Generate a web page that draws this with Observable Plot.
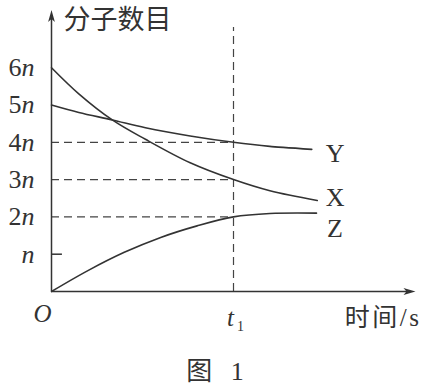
<!DOCTYPE html>
<html><head><meta charset="utf-8">
<script src="https://cdn.jsdelivr.net/npm/d3@7"></script>
<script src="https://cdn.jsdelivr.net/npm/@observablehq/plot@0.6"></script>
<style>
html,body{margin:0;padding:0;background:#fff;overflow:hidden;}
#chart svg{display:block;}
#caption{width:430px;height:35px;line-height:35px;text-align:center;font-family:"Liberation Serif","Noto Sans CJK SC",serif;font-size:26px;color:#333;margin-top:4px;word-spacing:12px;}
</style></head><body>
<div id="chart"></div>
<div id="caption">图 1</div>
<script>
// Series X, Y, Z: molecule count (in units of n) vs time (t1 = 5)
const xTimes  = [0, 0.75, 1.67, 2.58, 3.81, 5, 6, 7.3];
const xCounts = [6, 5.30, 4.60, 4.08, 3.45, 3.0, 2.70, 2.44];
const yTimes  = [0, 0.75, 1.67, 2.58, 3.81, 5, 6, 7.15];
const yCounts = [5, 4.80, 4.60, 4.39, 4.17, 4.0, 3.89, 3.81];
const zTimes  = [0, 1, 2, 3, 4, 5, 6, 7.28];
const zCounts = [0, 0.56, 1.05, 1.45, 1.76, 2.0, 2.09, 2.1];
const seriesNames = ["X", "Y", "Z"];
const labelTimes  = [7.79, 7.79, 7.79];
const labelCounts = [2.52, 3.70, 1.69];
const t1 = 5;
const guideCounts = [2, 3, 4];
const tickValues = [1, 2, 3, 4, 5, 6];
const tickDigits = ["", "2", "3", "4", "5", "6"];
const tickUnit = "n";
const xMax = 10;
const yMax = 7.55;
const guideTop = 7.08;
const yTitle = "分子数目";
const xTitle = "时间/s";
const originLabel = "O";
const t1Label = "t";
const t1Sub = "1";

const rows = [];
[[xTimes, xCounts], [yTimes, yCounts], [zTimes, zCounts]].forEach(([ts, vs], k) => {
  ts.forEach((t, i) => rows.push({t, v: vs[i], s: seriesNames[k]}));
});
const labels = seriesNames.map((s, i) => ({s, t: labelTimes[i], v: labelCounts[i]}));

const ink = "#333";
const serif = "Liberation Serif, Times New Roman, serif";
const cjk = "Liberation Serif, Noto Sans CJK SC, sans-serif";

const arrowUp = {draw(ctx) { ctx.moveTo(0, 0); ctx.lineTo(3.4, 12); ctx.lineTo(0, 9); ctx.lineTo(-3.4, 12); ctx.closePath(); }};
const arrowRight = {draw(ctx) { ctx.moveTo(0, 0); ctx.lineTo(-12, 3.4); ctx.lineTo(-9, 0); ctx.lineTo(-12, -3.4); ctx.closePath(); }};

const chart = Plot.plot({
  width: 425, height: 350,
  marginLeft: 51, marginRight: 10, marginTop: 9.4, marginBottom: 59,
  x: {domain: [0, xMax], axis: null},
  y: {domain: [0, yMax], axis: null},
  style: {background: "#fff", color: ink, overflow: "visible"},
  marks: [
    Plot.ruleY(guideCounts, {x1: 0, x2: t1, stroke: "#444", strokeWidth: 1.2, strokeDasharray: "8,5"}),
    Plot.ruleX([t1], {y1: 0, y2: guideTop, stroke: "#444", strokeWidth: 1.2, strokeDasharray: "8,5"}),
    Plot.ruleX([0], {y1: 0, y2: yMax - 0.15, stroke: ink, strokeWidth: 1.5}),
    Plot.ruleY([0], {x1: 0, x2: xMax - 0.15, stroke: ink, strokeWidth: 1.5}),
    Plot.ruleY([1], {x1: 0, x2: 0.3, stroke: ink, strokeWidth: 1.5}),
    Plot.dot([0], {x: 0, y: yMax, symbol: arrowUp, fill: ink, stroke: "none"}),
    Plot.dot([0], {x: xMax, y: 0, symbol: arrowRight, fill: ink, stroke: "none"}),
    Plot.line(rows, {x: "t", y: "v", z: "s", curve: "catmull-rom", stroke: ink, strokeWidth: 1.6}),
    Plot.text(labels, {x: "t", y: "v", text: "s", textAnchor: "middle", fontSize: 26, fontFamily: serif, fill: ink}),
    Plot.text(tickValues, {x: 0, y: d => d, text: (d, i) => tickDigits[i], textAnchor: "end", dx: -30, fontSize: 26, fontFamily: serif, fill: ink}),
    Plot.text(tickValues, {x: 0, y: d => d, text: () => tickUnit, textAnchor: "start", dx: -30, fontSize: 26, fontStyle: "italic", fontFamily: serif, fill: ink}),
    Plot.text([originLabel], {x: 0, y: 0, text: d => d, dx: -9, dy: 22, fontSize: 25, fontStyle: "italic", fontFamily: serif, fill: ink}),
    Plot.text([t1Label], {x: t1, y: 0, text: d => d, dx: -3, dy: 26, fontSize: 25, fontStyle: "italic", fontFamily: serif, fill: ink}),
    Plot.text([t1Sub], {x: t1, y: 0, text: d => d, dx: 7, dy: 35, fontSize: 14, fontFamily: serif, fill: ink}),
    Plot.text([xTitle], {x: xMax, y: 0, text: d => d, textAnchor: "end", dx: 6, dy: 26, fontSize: 24, fontFamily: cjk, fill: ink}),
    Plot.text([yTitle], {frameAnchor: "top-left", text: d => d, textAnchor: "start", lineAnchor: "middle", dx: 12, dy: 10.6, fontSize: 27, fontFamily: cjk, fill: ink})
  ]
});
document.getElementById("chart").appendChild(chart);
d3.select(chart).selectAll("text").filter(function() { return this.textContent === xTitle; }).attr("letter-spacing", "2.5px").attr("font-size", 25);
</script>
</body></html>
